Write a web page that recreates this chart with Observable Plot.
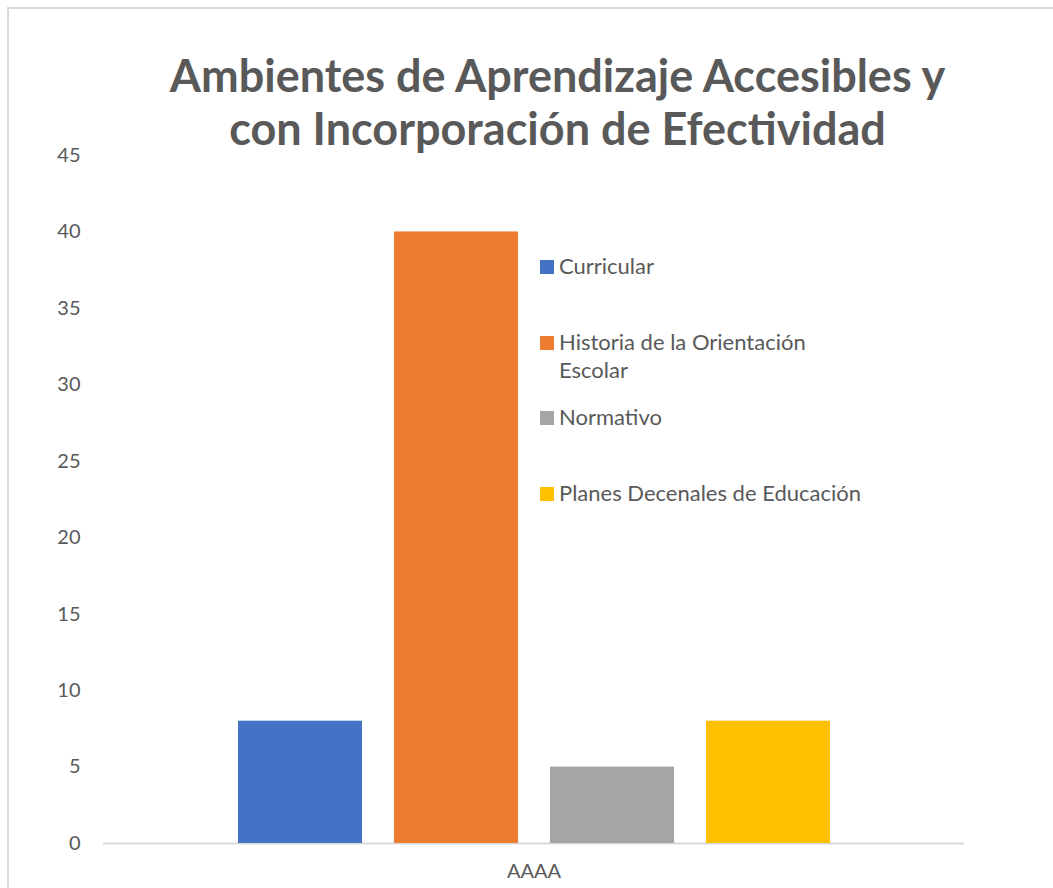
<!DOCTYPE html>
<html>
<head>
<meta charset="utf-8">
<script src="https://cdn.jsdelivr.net/npm/d3@7"></script>
<script src="https://cdn.jsdelivr.net/npm/@observablehq/plot@0.6"></script>
<style>
  html, body { margin: 0; padding: 0; background: #fff; overflow: hidden; }
  #wrap { position: relative; width: 1053px; height: 888px; font-family: "Lato", "Open Sans", sans-serif; color: #595959; }
  #frame { position: absolute; left: 7px; top: 7px; width: 1100px; height: 950px; border: 2px solid #d9d9d9; box-sizing: border-box; }
  #title { position: absolute; left: 0; top: 49px; width: 1115px; text-align: center; font-weight: bold; font-size: 45px; line-height: 53px; color: #595959; }
  #chart { position: absolute; left: 0; top: 0; }
  #legend { position: absolute; left: 540px; top: 0; }
  .item { position: absolute; left: 0; display: flex; align-items: flex-start; font-size: 22px; line-height: 28px; width: 360px; }
  .sw { width: 14px; height: 14px; margin-top: 8px; margin-right: 5px; flex: none; }
  .lbl { max-width: 311px; }
</style>
</head>
<body>
<div id="wrap">
  <div id="frame"></div>
  <div id="chart"></div>
  <div id="title">Ambientes de Aprendizaje Accesibles y<br>con Incorporación de Efectividad</div>
  <div id="legend"></div>
</div>
<script>
const category = "AAAA";
const series = ["Curricular", "Historia de la Orientación Escolar", "Normativo", "Planes Decenales de Educación"];
const values = [8, 40, 5, 8];
const colors = ["#4472C4", "#ED7D31", "#A5A5A5", "#FFC000"];
const yTicks = [0, 5, 10, 15, 20, 25, 30, 35, 40, 45];

const data = series.map((s, i) => ({cat: category, series: s, value: values[i]}));

const chart = Plot.plot({
  width: 1053,
  height: 888,
  marginTop: 155,
  marginBottom: 45,
  marginLeft: 103,
  marginRight: 89,
  style: {fontFamily: "Lato, 'Open Sans', sans-serif", fontSize: "20px", color: "#595959", background: "transparent"},
  y: {domain: [0, 45], ticks: yTicks, tickSize: 0, tickPadding: 23, label: null},
  fx: {domain: [category], padding: 0, label: null, axis: "bottom", tickSize: 0, tickPadding: 20},
  x: {domain: series, paddingInner: 0.207, paddingOuter: 0.858, axis: null},
  color: {domain: series, range: colors},
  marks: [
    Plot.ruleY([0], {stroke: "#d9d9d9", strokeWidth: 2}),
    Plot.barY(data, {fx: "cat", x: "series", y: "value", fill: "series"})
  ]
});
document.getElementById("chart").appendChild(chart);

const legendCenters = [266, 342, 417, 493];
const legend = document.getElementById("legend");
series.forEach((s, i) => {
  const it = document.createElement("div");
  it.className = "item";
  it.style.top = (legendCenters[i] - 14) + "px";
  it.innerHTML = `<div class="sw" style="background:${colors[i]}"></div><div class="lbl">${s}</div>`;
  legend.appendChild(it);
});
</script>
</body>
</html>
